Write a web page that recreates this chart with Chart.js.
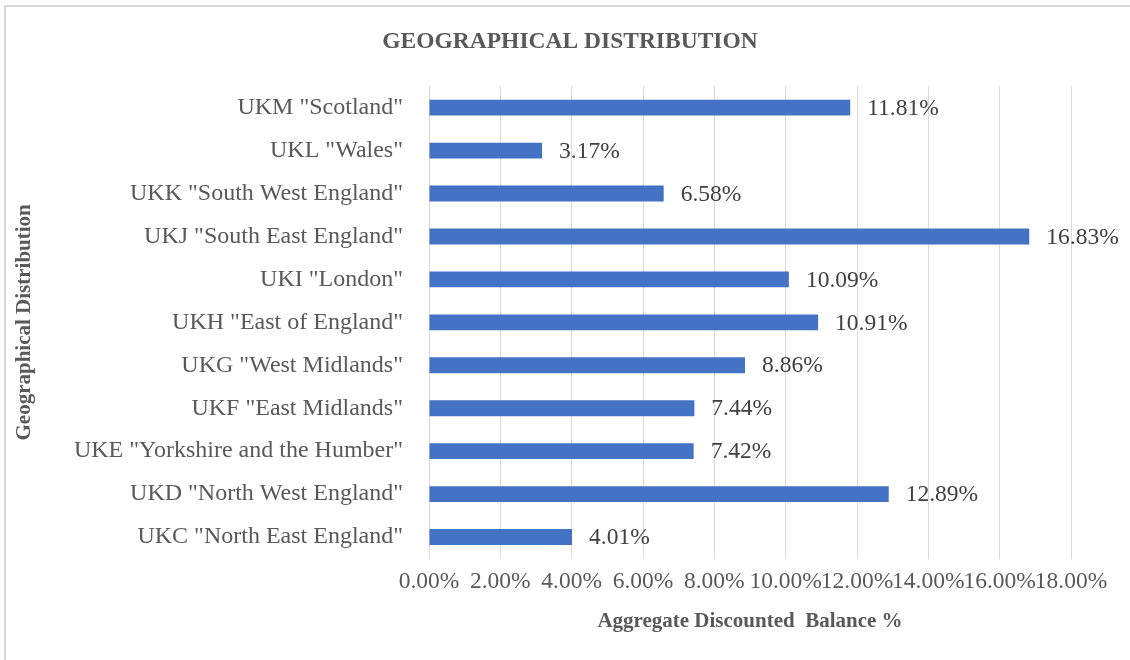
<!DOCTYPE html>
<html>
<head>
<meta charset="utf-8">
<script src="https://cdn.jsdelivr.net/npm/chart.js@4.4.0/dist/chart.umd.min.js"></script>
<style>
html,body{margin:0;padding:0;background:#fff;}
#wrap{position:relative;width:1130px;height:660px;}
</style>
</head>
<body>
<div id="wrap"><canvas id="c" width="1130" height="660"></canvas></div>
<script>
const categories = [
  'UKM "Scotland"',
  'UKL "Wales"',
  'UKK "South West England"',
  'UKJ "South East England"',
  'UKI "London"',
  'UKH "East of England"',
  'UKG "West Midlands"',
  'UKF "East Midlands"',
  'UKE "Yorkshire and the Humber"',
  'UKD "North West England"',
  'UKC "North East England"'
];
const balancePct = [11.81, 3.17, 6.58, 16.83, 10.09, 10.91, 8.86, 7.44, 7.42, 12.89, 4.01];
const xTickValues = [0, 2, 4, 6, 8, 10, 12, 14, 16, 18];

const SERIF = '"Liberation Serif", "Times New Roman", serif';

const frame = {
  id: 'frame',
  beforeDraw(chart) {
    const ctx = chart.ctx;
    ctx.save();
    ctx.fillStyle = '#fff';
    ctx.fillRect(0, 0, chart.width, chart.height);
    ctx.strokeStyle = '#d9d9d9';
    ctx.lineWidth = 2;
    ctx.beginPath();
    ctx.moveTo(chart.width, 6);
    ctx.lineTo(5, 6);
    ctx.lineTo(5, chart.height);
    ctx.stroke();
    ctx.restore();
  }
};

const barLabels = {
  id: 'barLabels',
  afterDatasetsDraw(chart) {
    const ctx = chart.ctx;
    const meta = chart.getDatasetMeta(0);
    ctx.save();
    ctx.font = '23.5px ' + SERIF;
    ctx.fillStyle = '#404040';
    ctx.textAlign = 'left';
    ctx.textBaseline = 'middle';
    meta.data.forEach((bar, i) => {
      ctx.fillText(balancePct[i].toFixed(2) + '%', bar.x + 17, bar.y + 1);
    });
    ctx.restore();
  }
};

new Chart(document.getElementById('c'), {
  type: 'bar',
  data: {
    labels: categories,
    datasets: [{
      data: balancePct,
      backgroundColor: '#4472C4',
      borderWidth: 0,
      categoryPercentage: 1,
      barPercentage: 0.37
    }]
  },
  options: {
    indexAxis: 'y',
    responsive: false,
    animation: false,
    devicePixelRatio: 1,
    layout: { padding: { left: 10, right: 0, top: 0, bottom: 20 } },
    plugins: {
      legend: { display: false },
      tooltip: { enabled: false },
      title: {
        display: true,
        text: 'GEOGRAPHICAL DISTRIBUTION',
        color: '#595959',
        font: { family: SERIF, size: 23.5, weight: 'bold', lineHeight: 1.2 },
        padding: { top: 28, bottom: 30 }
      }
    },
    scales: {
      x: {
        min: 0,
        max: 18,
        afterBuildTicks(scale) { scale.ticks = xTickValues.map(v => ({ value: v })); },
        afterFit(scale) { scale.height = 81.5; scale.paddingRight = 59; },
        grid: { color: '#d9d9d9', lineWidth: 1, drawTicks: false },
        border: { display: false },
        ticks: {
          autoSkip: false,
          maxRotation: 0,
          padding: 9,
          color: '#595959',
          font: { family: SERIF, size: 23.5 },
          callback: v => v.toFixed(2) + '%'
        },
        title: {
          display: true,
          text: 'Aggregate Discounted  Balance %',
          color: '#595959',
          font: { family: SERIF, size: 21, weight: 'bold', lineHeight: 1.2 },
          padding: { top: 0, bottom: 6 }
        }
      },
      y: {
        afterFit(scale) { scale.width = 429 - 10; },
        grid: { display: false, drawTicks: false },
        border: { display: false },
        ticks: {
          padding: 26,
          color: '#595959',
          font: { family: SERIF, size: 24 }
        },
        title: {
          display: true,
          text: 'Geographical Distribution',
          color: '#595959',
          font: { family: SERIF, size: 21, weight: 'bold', lineHeight: 1.2 },
          padding: { top: 2, bottom: 0 }
        }
      }
    }
  },
  plugins: [frame, barLabels]
});
</script>
</body>
</html>
